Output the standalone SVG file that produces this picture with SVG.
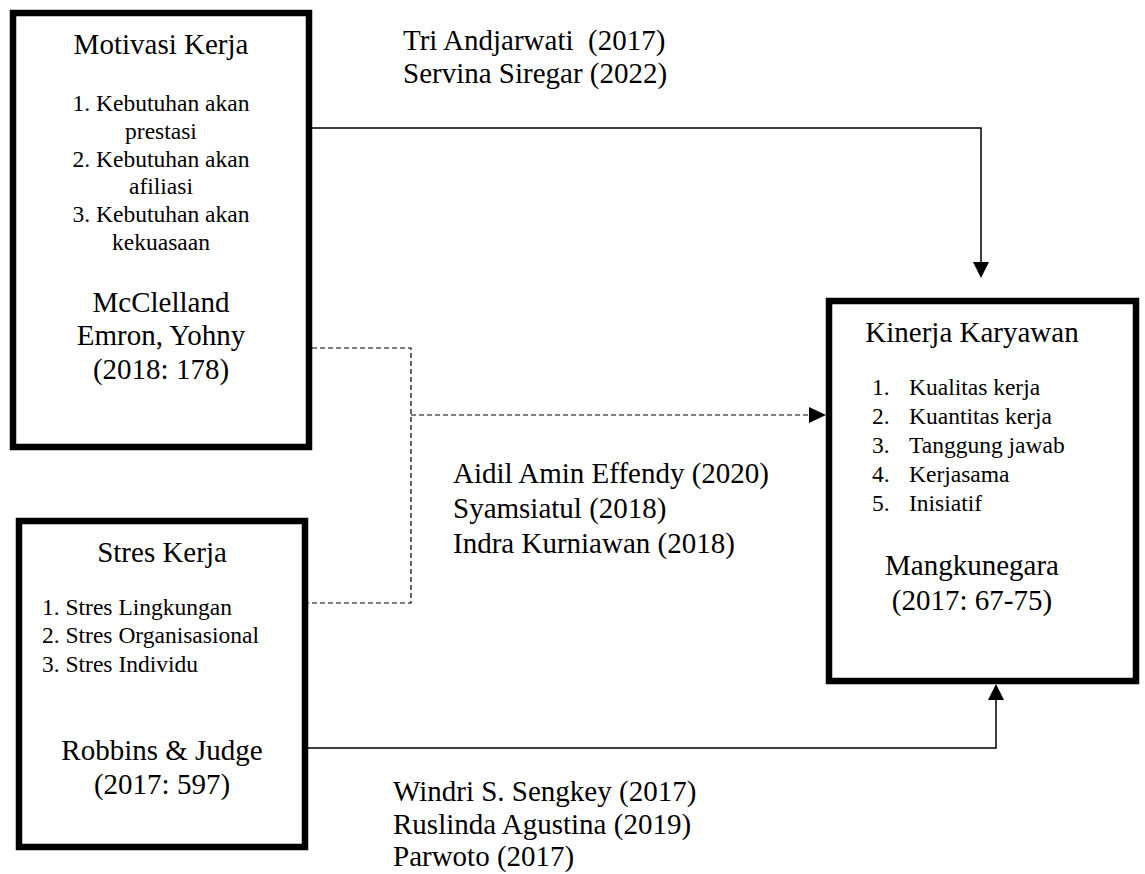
<svg xmlns="http://www.w3.org/2000/svg" width="1145" height="874" viewBox="0 0 1145 874">
<style>
text{font-family:"Liberation Serif","Times New Roman",serif;fill:#000}
.t{font-size:29px}
.l{font-size:23.5px}
.c{text-anchor:middle}
.box{fill:#fff;stroke:#000;stroke-width:6.5}
.ln{fill:none;stroke:#000;stroke-width:1.5}
.dl{fill:none;stroke:#000;stroke-width:1.2;stroke-dasharray:5,3}
</style>
<rect width="1145" height="874" fill="#fff"/>
<g id="connectors">
<path class="ln" d="M312 128 H981 V262"/>
<polygon points="973,262 989,262 981,278"/>
<path class="dl" d="M312 348 H411 V603 H308"/>
<path class="dl" d="M411 415 H809"/>
<polygon points="809,407 809,423 826,415"/>
<path class="ln" d="M308 748 H996 V700"/>
<polygon points="988,700 1004,700 996,684"/>
</g>
<g id="motivasi">
<rect class="box" x="13" y="13" width="296" height="434"/>
<text class="t c" x="161" y="54">Motivasi Kerja</text>
<text class="l c" x="161" y="111">1. Kebutuhan akan</text>
<text class="l c" x="161" y="139">prestasi</text>
<text class="l c" x="161" y="167">2. Kebutuhan akan</text>
<text class="l c" x="161" y="194">afiliasi</text>
<text class="l c" x="161" y="222">3. Kebutuhan akan</text>
<text class="l c" x="161" y="250">kekuasaan</text>
<text class="t c" x="161" y="312">McClelland</text>
<text class="t c" x="161" y="345">Emron, Yohny</text>
<text class="t c" x="161" y="379">(2018: 178)</text>
</g>
<g id="stres">
<rect class="box" x="19" y="521" width="286" height="326"/>
<text class="t c" x="162" y="562">Stres Kerja</text>
<text class="l" x="42" y="615">1. Stres Lingkungan</text>
<text class="l" x="42" y="643">2. Stres Organisasional</text>
<text class="l" x="42" y="672">3. Stres Individu</text>
<text class="t c" x="162" y="760">Robbins &amp; Judge</text>
<text class="t c" x="162" y="794">(2017: 597)</text>
</g>
<g id="kinerja">
<rect class="box" x="829" y="301" width="307" height="380"/>
<text class="t c" x="972" y="342">Kinerja Karyawan</text>
<text class="l" x="872" y="395">1.</text><text class="l" x="909" y="395">Kualitas kerja</text>
<text class="l" x="872" y="424">2.</text><text class="l" x="909" y="424">Kuantitas kerja</text>
<text class="l" x="872" y="453">3.</text><text class="l" x="909" y="453">Tanggung jawab</text>
<text class="l" x="872" y="482">4.</text><text class="l" x="909" y="482">Kerjasama</text>
<text class="l" x="872" y="511">5.</text><text class="l" x="909" y="511">Inisiatif</text>
<text class="t c" x="972" y="575">Mangkunegara</text>
<text class="t c" x="972" y="610">(2017: 67-75)</text>
</g>
<g id="label-top">
<text class="t" x="403" y="50" xml:space="preserve">Tri Andjarwati  (2017)</text>
<text class="t" x="403" y="83">Servina Siregar (2022)</text>
</g>
<g id="label-mid">
<text class="t" x="453" y="483">Aidil Amin Effendy (2020)</text>
<text class="t" x="453" y="518">Syamsiatul (2018)</text>
<text class="t" x="453" y="553">Indra Kurniawan (2018)</text>
</g>
<g id="label-bottom">
<text class="t" x="393" y="801">Windri S. Sengkey (2017)</text>
<text class="t" x="393" y="834">Ruslinda Agustina (2019)</text>
<text class="t" x="393" y="866">Parwoto (2017)</text>
</g>
</svg>
